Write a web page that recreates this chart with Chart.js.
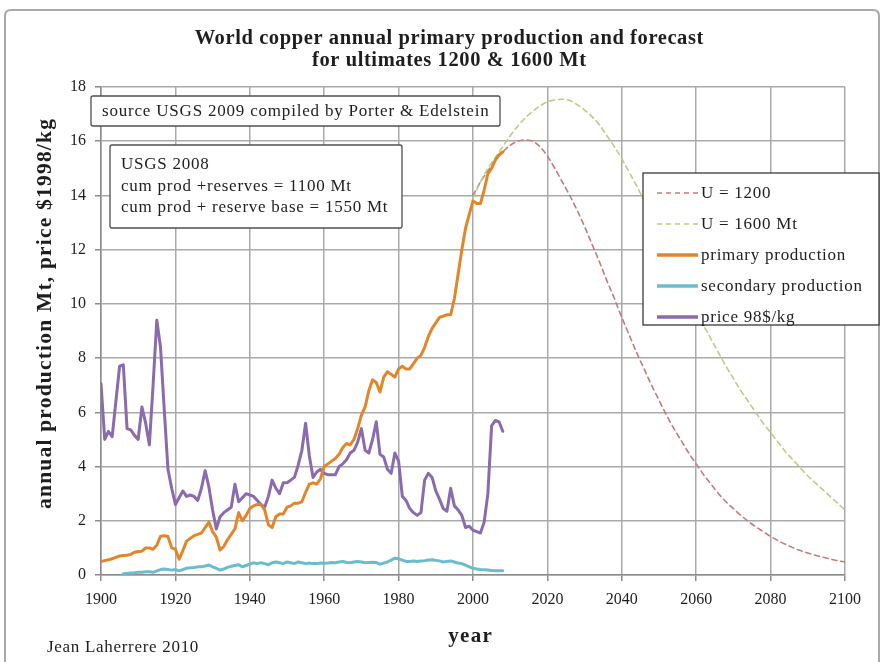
<!DOCTYPE html>
<html>
<head>
<meta charset="utf-8">
<script src="https://cdn.jsdelivr.net/npm/chart.js@4.4.1/dist/chart.umd.min.js"></script>
<style>
  html, body { margin: 0; padding: 0; background: #ffffff; }
  canvas { display: block; }
</style>
</head>
<body>
<canvas id="chart" width="881" height="662"></canvas>
<script>
// World copper: primary & secondary production (Mt/yr), copper price ($1998/kg),
// and two Hubbert-type forecasts for ultimates of 1200 Mt and 1600 Mt.

const firstYear = 1900;          // primary production and price start here, one value per year
const secondaryFirstYear = 1906; // secondary production starts here

const primaryProduction = [
  0.50, 0.53, 0.56, 0.60, 0.65, 0.70, 0.72, 0.73, 0.76, 0.84,   // 1900s
  0.87, 0.88, 1.00, 1.00, 0.95, 1.10, 1.43, 1.45, 1.42, 1.00,   // 1910s
  0.95, 0.58, 0.90, 1.25, 1.35, 1.45, 1.50, 1.55, 1.75, 1.95,   // 1920s
  1.60, 1.40, 0.92, 1.05, 1.30, 1.50, 1.70, 2.30, 2.00, 2.20,   // 1930s
  2.45, 2.55, 2.60, 2.60, 2.40, 1.85, 1.75, 2.15, 2.25, 2.25,   // 1940s
  2.50, 2.55, 2.65, 2.65, 2.70, 3.05, 3.35, 3.40, 3.35, 3.55,   // 1950s
  4.00, 4.10, 4.20, 4.30, 4.45, 4.70, 4.85, 4.80, 5.00, 5.40,   // 1960s
  5.90, 6.20, 6.80, 7.20, 7.10, 6.75, 7.30, 7.50, 7.40, 7.30,   // 1970s
  7.60, 7.70, 7.60, 7.60, 7.80, 8.00, 8.10, 8.40, 8.80, 9.10,   // 1980s
  9.30, 9.50, 9.55, 9.60, 9.60, 10.2, 11.1, 12.0, 12.8, 13.3,   // 1990s
  13.8, 13.7, 13.7, 14.2, 14.8, 15.0, 15.3, 15.5, 15.6          // 2000-2008
];

const secondaryProduction = [
  0.05, 0.06, 0.07, 0.08,                                       // 1906-1909
  0.10, 0.10, 0.12, 0.12, 0.10, 0.15, 0.20, 0.22, 0.20, 0.18,   // 1910s
  0.20, 0.15, 0.20, 0.25, 0.27, 0.28, 0.30, 0.30, 0.33, 0.37,   // 1920s
  0.30, 0.25, 0.18, 0.22, 0.28, 0.32, 0.35, 0.38, 0.30, 0.35,   // 1930s
  0.40, 0.45, 0.42, 0.45, 0.42, 0.38, 0.45, 0.48, 0.45, 0.42,   // 1940s
  0.48, 0.45, 0.42, 0.48, 0.45, 0.42, 0.44, 0.42, 0.42, 0.44,   // 1950s
  0.43, 0.44, 0.46, 0.45, 0.48, 0.50, 0.46, 0.45, 0.48, 0.50,   // 1960s
  0.48, 0.45, 0.46, 0.47, 0.46, 0.40, 0.44, 0.48, 0.55, 0.62,   // 1970s
  0.60, 0.55, 0.50, 0.50, 0.52, 0.50, 0.52, 0.53, 0.55, 0.56,   // 1980s
  0.54, 0.52, 0.48, 0.50, 0.52, 0.48, 0.44, 0.42, 0.36, 0.30,   // 1990s
  0.25, 0.22, 0.20, 0.19, 0.18, 0.17, 0.16, 0.16, 0.16          // 2000-2008
];

const copperPrice = [
  7.05, 5.00, 5.30, 5.10, 6.40, 7.70, 7.75, 5.40, 5.35, 5.15,   // 1900s
  5.00, 6.20, 5.60, 4.80, 7.00, 9.40, 8.40, 6.10, 3.90, 3.20,   // 1910s
  2.60, 2.85, 3.10, 2.90, 2.95, 2.90, 2.75, 3.20, 3.85, 3.25,   // 1920s
  2.40, 1.70, 2.15, 2.30, 2.40, 2.50, 3.35, 2.70, 2.85, 3.00,   // 1930s
  2.95, 2.90, 2.75, 2.60, 2.50, 2.90, 3.50, 3.20, 3.00, 3.40,   // 1940s
  3.40, 3.50, 3.60, 4.05, 4.60, 5.60, 4.40, 3.60, 3.80, 3.90,   // 1950s
  3.75, 3.70, 3.70, 3.70, 4.00, 4.10, 4.25, 4.50, 4.60, 4.90,   // 1960s
  5.40, 4.60, 4.50, 5.00, 5.65, 4.45, 4.35, 3.90, 3.75, 4.50,   // 1970s
  4.20, 2.90, 2.75, 2.45, 2.30, 2.20, 2.30, 3.50, 3.75, 3.60,   // 1980s
  3.10, 2.80, 2.45, 2.35, 3.20, 2.55, 2.40, 2.20, 1.75, 1.80,   // 1990s
  1.65, 1.60, 1.55, 1.95, 3.00, 5.50, 5.70, 5.65, 5.30          // 2000-2008
];

// Forecast curves, read every two years
const forecastYears = [
  2000, 2002, 2004, 2006, 2008, 2010, 2012, 2014, 2016, 2018,
  2020, 2022, 2024, 2026, 2028, 2030, 2032, 2034, 2036, 2038,
  2040, 2042, 2044, 2046, 2048, 2050, 2052, 2054, 2056, 2058,
  2060, 2062, 2064, 2066, 2068, 2070, 2072, 2074, 2076, 2078,
  2080, 2082, 2084, 2086, 2088, 2090, 2092, 2094, 2096, 2098, 2100
];

const forecastU1200 = [
  14.0, 14.5, 14.9, 15.3, 15.6, 15.85, 16.0, 16.05, 16.0, 15.8,
  15.45, 15.0, 14.5, 14.0, 13.45, 12.85, 12.2, 11.55, 10.85, 10.2,
  9.5, 8.85, 8.2, 7.6, 7.0, 6.45, 5.9, 5.4, 4.95, 4.5,
  4.1, 3.7, 3.35, 3.0, 2.7, 2.45, 2.2, 1.98, 1.78, 1.6,
  1.42, 1.27, 1.13, 1.01, 0.9, 0.81, 0.73, 0.66, 0.59, 0.53, 0.48
];

const forecastU1600 = [
  13.9, 14.5, 15.0, 15.4, 15.8, 16.2, 16.55, 16.85, 17.1, 17.3,
  17.45, 17.52, 17.55, 17.5, 17.35, 17.15, 16.9, 16.6, 16.2, 15.8,
  15.35, 14.85, 14.35, 13.8, 13.25, 12.7, 12.1, 11.5, 10.9, 10.3,
  9.75, 9.2, 8.7, 8.2, 7.7, 7.25, 6.8, 6.4, 6.0, 5.6,
  5.25, 4.9, 4.55, 4.25, 3.95, 3.65, 3.4, 3.15, 2.9, 2.65, 2.4
];

// Tick labels
const xTickYears = [1900, 1920, 1940, 1960, 1980, 2000, 2020, 2040, 2060, 2080, 2100];
const yTickValues = [0, 2, 4, 6, 8, 10, 12, 14, 16, 18];

// Text
const chartTitle = ['World copper annual primary production and forecast', 'for ultimates 1200 & 1600 Mt'];
const yAxisTitle = 'annual production Mt, price $1998/kg';
const xAxisTitle = 'year';
const creditText = 'Jean Laherrere 2010';
const sourceNote = 'source USGS 2009 compiled by Porter & Edelstein';
const reserveNote = ['USGS 2008', 'cum prod +reserves = 1100 Mt', 'cum prod + reserve base = 1550 Mt'];
const seriesNames = ['U = 1200', 'U = 1600 Mt', 'primary production', 'secondary production', 'price 98$/kg'];

// Build {x, y} points from the arrays
const yearly = (start, values) => values.map((v, i) => ({ x: start + i, y: v }));
const paired = (xs, ys) => xs.map((x, i) => ({ x: x, y: ys[i] }));

const SERIF = '"Liberation Serif", "Times New Roman", serif';
const COLORS = {
  u1200: '#c57a7c',
  u1600: '#b9cd84',
  primary: '#e2862b',
  secondary: '#6bbccd',
  price: '#8a6bae',
  grid: '#aaaaaa',
  text: '#1e1e1e'
};

const datasets = [
  { label: seriesNames[0], data: paired(forecastYears, forecastU1200), borderColor: COLORS.u1200,
    borderWidth: 1.6, borderDash: [5, 4], tension: 0.4, cubicInterpolationMode: 'monotone', order: 5 },
  { label: seriesNames[1], data: paired(forecastYears, forecastU1600), borderColor: COLORS.u1600,
    borderWidth: 1.6, borderDash: [5, 4], tension: 0.4, cubicInterpolationMode: 'monotone', order: 4 },
  { label: seriesNames[2], data: yearly(firstYear, primaryProduction), borderColor: COLORS.primary,
    borderWidth: 3, tension: 0, order: 1 },
  { label: seriesNames[3], data: yearly(secondaryFirstYear, secondaryProduction), borderColor: COLORS.secondary,
    borderWidth: 3, tension: 0, order: 3 },
  { label: seriesNames[4], data: yearly(firstYear, copperPrice), borderColor: COLORS.price,
    borderWidth: 3, tension: 0, order: 2 }
];

function drawBox(ctx, x, y, w, h, r) {
  ctx.beginPath();
  ctx.moveTo(x + r, y);
  ctx.lineTo(x + w - r, y);
  ctx.quadraticCurveTo(x + w, y, x + w, y + r);
  ctx.lineTo(x + w, y + h - r);
  ctx.quadraticCurveTo(x + w, y + h, x + w - r, y + h);
  ctx.lineTo(x + r, y + h);
  ctx.quadraticCurveTo(x, y + h, x, y + h - r);
  ctx.lineTo(x, y + r);
  ctx.quadraticCurveTo(x, y, x + r, y);
  ctx.closePath();
}

// Serif text with a little extra tracking
function label(ctx, str, x, y, size, opts) {
  const o = opts || {};
  ctx.save();
  ctx.font = (o.bold ? 'bold ' : '') + size + 'px ' + SERIF;
  ctx.textAlign = o.align || 'left';
  ctx.textBaseline = 'middle';
  ctx.fillStyle = COLORS.text;
  const sp = o.spacing || 0;
  if ('letterSpacing' in ctx) ctx.letterSpacing = sp + 'px';
  const shift = (ctx.textAlign === 'center') ? sp / 2 : 0;
  if (o.rotate) {
    ctx.translate(x, y);
    ctx.rotate(o.rotate);
    ctx.fillText(str, shift, 0);
  } else {
    ctx.fillText(str, x + shift, y);
  }
  ctx.restore();
}

// Outer frame, titles, note boxes, legend and credit line
const decorations = {
  id: 'decorations',
  beforeDraw(chart) {
    const ctx = chart.ctx;
    ctx.save();
    ctx.fillStyle = '#ffffff';
    ctx.fillRect(0, 0, chart.width, chart.height);
    ctx.strokeStyle = '#a9a9a9';
    ctx.lineWidth = 2;
    drawBox(ctx, 5, 10, 874, 664, 6);
    ctx.stroke();
    ctx.restore();
  },
  afterDraw(chart) {
    const ctx = chart.ctx;

    // Title
    label(ctx, chartTitle[0], 449, 39, 20.5, { bold: true, align: 'center', spacing: 0.6 });
    label(ctx, chartTitle[1], 449, 61, 20.5, { bold: true, align: 'center', spacing: 0.6 });

    // Axis titles
    label(ctx, xAxisTitle, 470, 637, 21, { bold: true, align: 'center', spacing: 1.3 });
    label(ctx, yAxisTitle, 45, 314, 21.5, { bold: true, align: 'center', spacing: 1.2, rotate: -Math.PI / 2 });

    // Credit
    label(ctx, creditText, 47, 648, 17, { spacing: 0.7 });

    // Note boxes
    ctx.save();
    ctx.lineWidth = 1.3;
    ctx.strokeStyle = '#505050';
    ctx.fillStyle = '#ffffff';
    drawBox(ctx, 91, 96, 409, 30, 2);
    ctx.fill(); ctx.stroke();
    drawBox(ctx, 110, 145, 292, 83, 2);
    ctx.fill(); ctx.stroke();
    ctx.restore();

    label(ctx, sourceNote, 102, 112, 17, { spacing: 0.8 });
    reserveNote.forEach((line, i) => label(ctx, line, 121, 165 + i * 21.5, 17, { spacing: 0.75 }));

    // Legend
    const lx = 643, ly = 173, lw = 236, lh = 152;
    ctx.save();
    ctx.fillStyle = '#ffffff';
    ctx.strokeStyle = '#3a3a3a';
    ctx.lineWidth = 1.3;
    ctx.fillRect(lx, ly, lw, lh);
    ctx.strokeRect(lx, ly, lw, lh);
    ctx.restore();
    const rowYs = [193, 224, 255, 286, 317];
    chart.data.datasets.forEach((ds, i) => {
      const rowY = rowYs[i];
      ctx.save();
      ctx.strokeStyle = ds.borderColor;
      ctx.lineWidth = ds.borderDash ? 1.6 : 3.5;
      ctx.setLineDash(ds.borderDash || []);
      ctx.beginPath();
      ctx.moveTo(657, rowY);
      ctx.lineTo(698, rowY);
      ctx.stroke();
      ctx.restore();
      label(ctx, ds.label, 701, rowY + 1, 17, { spacing: 0.74 });
    });
  }
};

const tickFont = { family: SERIF, size: 16 };

new Chart(document.getElementById('chart'), {
  type: 'line',
  data: { datasets: datasets },
  options: {
    responsive: false,
    animation: false,
    events: [],
    layout: { padding: { top: 87, right: 36, left: 0, bottom: 0 } },
    elements: { point: { radius: 0 }, line: { fill: false, borderCapStyle: 'round', borderJoinStyle: 'round' } },
    plugins: { legend: { display: false }, tooltip: { enabled: false }, title: { display: false } },
    scales: {
      x: {
        type: 'linear',
        min: xTickYears[0],
        max: xTickYears[xTickYears.length - 1],
        afterBuildTicks: (scale) => { scale.ticks = xTickYears.map(v => ({ value: v })); },
        afterFit: (scale) => { scale.height = 87; },
        ticks: { font: tickFont, color: COLORS.text, padding: 9, maxRotation: 0, callback: (v) => String(v) },
        grid: { color: COLORS.grid, lineWidth: 1.5, tickLength: 6, tickColor: '#8c8c8c' },
        border: { color: '#8c8c8c', width: 1.5 }
      },
      y: {
        type: 'linear',
        min: yTickValues[0],
        max: yTickValues[yTickValues.length - 1],
        afterBuildTicks: (scale) => { scale.ticks = yTickValues.map(v => ({ value: v })); },
        afterFit: (scale) => { scale.width = 101; },
        ticks: { font: tickFont, color: COLORS.text, padding: 9, callback: (v) => String(v) },
        grid: { color: COLORS.grid, lineWidth: 1.5, tickLength: 6, tickColor: '#8c8c8c' },
        border: { color: '#8c8c8c', width: 1.5 }
      }
    }
  },
  plugins: [decorations]
});
</script>
</body>
</html>
